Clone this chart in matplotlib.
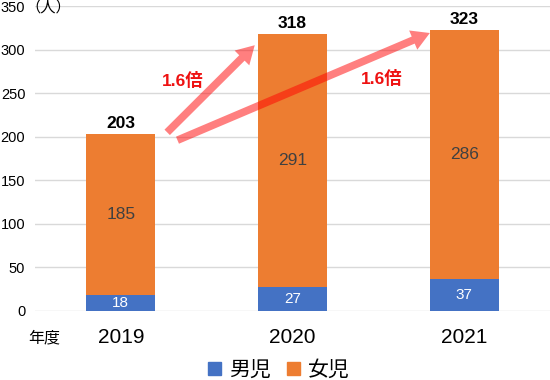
import matplotlib
matplotlib.use("Agg")
import matplotlib.pyplot as plt
from matplotlib.patches import Patch

plt.rcParams['font.family'] = ['Liberation Sans', 'Noto Sans CJK JP', 'DejaVu Sans']

years = ['2019', '2020', '2021']
boys = [18, 27, 37]
girls = [185, 291, 286]
totals = [b + g for b, g in zip(boys, girls)]
yticks = [0, 50, 100, 150, 200, 250, 300, 350]
ratio_label = '1.6倍'

BLUE = '#4472C4'
ORANGE = '#ED7D31'

fig = plt.figure(figsize=(5.5, 3.8), dpi=100)
ax = fig.add_axes([35/550, 69/380, 515/550, 305/380])
x = list(range(len(years)))
w = 0.4
ax.bar(x, boys, width=w, color=BLUE, zorder=2)
ax.bar(x, girls, width=w, bottom=boys, color=ORANGE, zorder=2)

ax.set_xlim(-0.5, 2.5)
ax.set_ylim(0, 350)
ax.set_yticks(yticks)
ax.set_yticklabels([str(v) for v in yticks], fontsize=10.5)
ax.tick_params(axis='y', length=0, pad=7)
ax.set_xticks(x)
ax.set_xticklabels(years, fontsize=15)
ax.tick_params(axis='x', length=0, pad=12)
ax.grid(axis='y', color='#D9D9D9', linewidth=1, zorder=0)
for s in ax.spines.values():
    s.set_visible(False)

for i in x:
    ax.text(i, boys[i] / 2, str(boys[i]), ha='center', va='center',
            color='white', fontsize=11, zorder=3)
    ax.text(i, boys[i] + girls[i] / 2, str(girls[i]), ha='center', va='center',
            color='#404040', fontsize=12.5, zorder=3)
    ax.text(i, totals[i] + 3, str(totals[i]), ha='center', va='bottom',
            color='black', fontsize=12.5, fontweight='bold', zorder=3)

# arrows
arrows = [((0.27, totals[0] + 2), (0.78, totals[1] - 13)),
          ((0.33, totals[0] - 7), (1.80, totals[2] - 4))]
for (s, e) in arrows:
    ax.annotate('', xy=e, xytext=s,
                arrowprops=dict(arrowstyle='simple,head_length=1.3,head_width=1.5,tail_width=0.55',
                                mutation_scale=10, color='#FF0000', alpha=0.5, lw=0,
                                shrinkA=0, shrinkB=0),
                zorder=4)
ax.text(0.36, 265, ratio_label, color='#EE1111', fontsize=12.5, fontweight='bold',
        ha='center', va='center', zorder=5)
ax.text(1.52, 267, ratio_label, color='#EE1111', fontsize=12.5, fontweight='bold',
        ha='center', va='center', zorder=5)

fig.text(25/550, 1 - 12/380, '（人）', fontsize=11, ha='left', va='baseline')
fig.text(44/550, 1 - 338/380, '年度', fontsize=11.5, ha='center', va='center')

handles = [Patch(color=BLUE, label='男児'), Patch(color=ORANGE, label='女児')]
fig.legend(handles=handles, loc='center', bbox_to_anchor=(279/550, 1 - 370/380), ncol=2,
           frameon=False, fontsize=15, handlelength=0.6, handleheight=0.6,
           handletextpad=0.4, columnspacing=0.8, borderpad=0)

fig.savefig('out.png', dpi=100)
